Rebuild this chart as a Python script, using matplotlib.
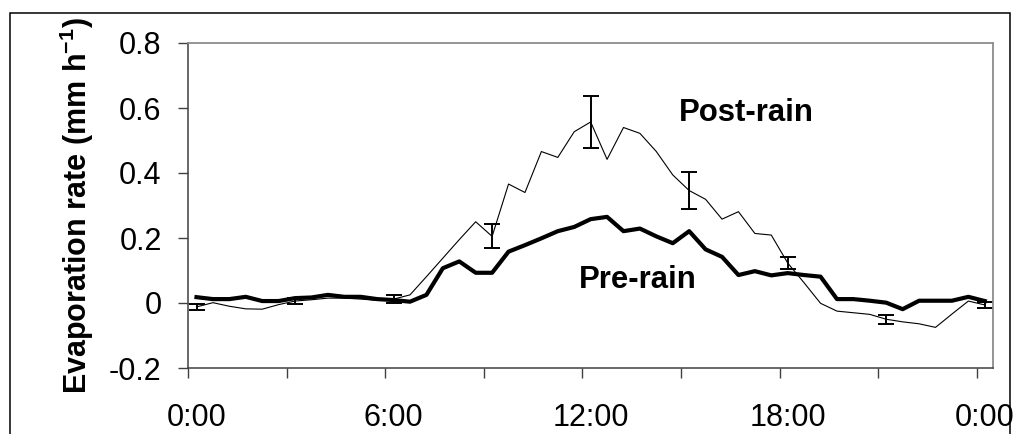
import numpy as np
import matplotlib
matplotlib.use("Agg")
import matplotlib.pyplot as plt
from matplotlib.patches import Rectangle

plt.rcParams['font.family'] = ['Liberation Sans', 'DejaVu Sans']
plt.rcParams['mathtext.fontset'] = 'custom'
plt.rcParams['mathtext.rm'] = 'Liberation Sans'
plt.rcParams['mathtext.bf'] = 'Liberation Sans:bold'

# 30-minute steps, 0:00 .. 24:00 (49 points)
pre_rain = [0.018, 0.012, 0.012, 0.019, 0.006, 0.006, 0.015, 0.017, 0.025, 0.019,
            0.019, 0.012, 0.009, 0.004, 0.025, 0.107, 0.128, 0.093, 0.093, 0.158,
            0.178, 0.199, 0.221, 0.234, 0.258, 0.265, 0.221, 0.229, 0.205, 0.184,
            0.221, 0.165, 0.142, 0.086, 0.098, 0.085, 0.092, 0.086, 0.081, 0.012,
            0.012, 0.007, 0.001, -0.019, 0.007, 0.007, 0.007, 0.019, 0.006]
post_rain = [-0.012, 0.001, -0.010, -0.018, -0.019, -0.005, 0.006, 0.010, 0.015, 0.015,
             0.012, 0.008, 0.012, 0.025, 0.081, 0.138, 0.195, 0.250, 0.205, 0.366,
             0.340, 0.466, 0.448, 0.527, 0.557, 0.442, 0.540, 0.522, 0.466, 0.394,
             0.346, 0.319, 0.258, 0.281, 0.214, 0.209, 0.123, 0.062, -0.001, -0.025,
             -0.030, -0.035, -0.050, -0.058, -0.064, -0.075, -0.034, 0.006, -0.006]

# error bars every 3 h on the post-rain series
err_idx = [0, 6, 12, 18, 24, 30, 36, 42, 48]
err_half = [0.009, 0.008, 0.013, 0.037, 0.080, 0.057, 0.019, 0.014, 0.008]

x_labels = ['0:00', '6:00', '12:00', '18:00', '0:00']
y_ticks = [-0.2, 0, 0.2, 0.4, 0.6, 0.8]
y_labels = ['-0.2', '0', '0.2', '0.4', '0.6', '0.8']

W, H = 1013, 434
fig = plt.figure(figsize=(W / 100, H / 100), dpi=100)
ax = fig.add_axes([188.3 / W, 1 - 368 / H, (993 - 188.3) / W, (368 - 43) / H])

x = np.arange(len(pre_rain))
ax.plot(x, post_rain, color='black', lw=0.8)
ax.plot(x, pre_rain, color='black', lw=3.0)
ax.errorbar(err_idx, [post_rain[i] for i in err_idx], yerr=err_half, fmt='none',
            ecolor='black', elinewidth=1.4, capsize=5.5, capthick=1.4)

ax.text(29.4, 0.56, 'Post-rain', fontsize=22.4, fontweight='bold')
ax.text(23.3, 0.045, 'Pre-rain', fontsize=22.4, fontweight='bold')

ax.set_xlim(-0.5, len(pre_rain) - 0.5)
ax.set_ylim(-0.2, 0.8)
ax.set_xticks(np.arange(0, 49, 12))
ax.set_xticklabels(x_labels)
ax.set_xticks(np.arange(-0.5, 48, 6), minor=True)
ax.set_yticks(y_ticks)
ax.set_yticklabels(y_labels)

ax.tick_params(axis='x', which='major', length=0, pad=25, labelsize=22)
ax.tick_params(axis='x', which='minor', length=7.2, width=1.0, color='#404040', direction='out')
ax.tick_params(axis='y', which='major', length=7.2, width=1.0, color='#404040',
               direction='out', pad=12, labelsize=22)

for s in ['left', 'bottom']:
    ax.spines[s].set_color('#404040')
    ax.spines[s].set_linewidth(1.1)
for s in ['top', 'right']:
    ax.spines[s].set_color('#8c8c8c')
    ax.spines[s].set_linewidth(1.3)

fig.text(87 / W, 1 - 205.5 / H, r'Evaporation rate (mm h$\mathbf{^{-1}}$)',
         rotation=90, rotation_mode='anchor', ha='center', va='baseline',
         fontsize=22, fontweight='bold')

# outer chart border
fig.add_artist(Rectangle((10 / W, -0.1), 1000 / W, 1.1 - 13.3 / H,
                         transform=fig.transFigure, fill=False,
                         edgecolor='black', lw=1.1))

fig.savefig('out.png', dpi=100)
